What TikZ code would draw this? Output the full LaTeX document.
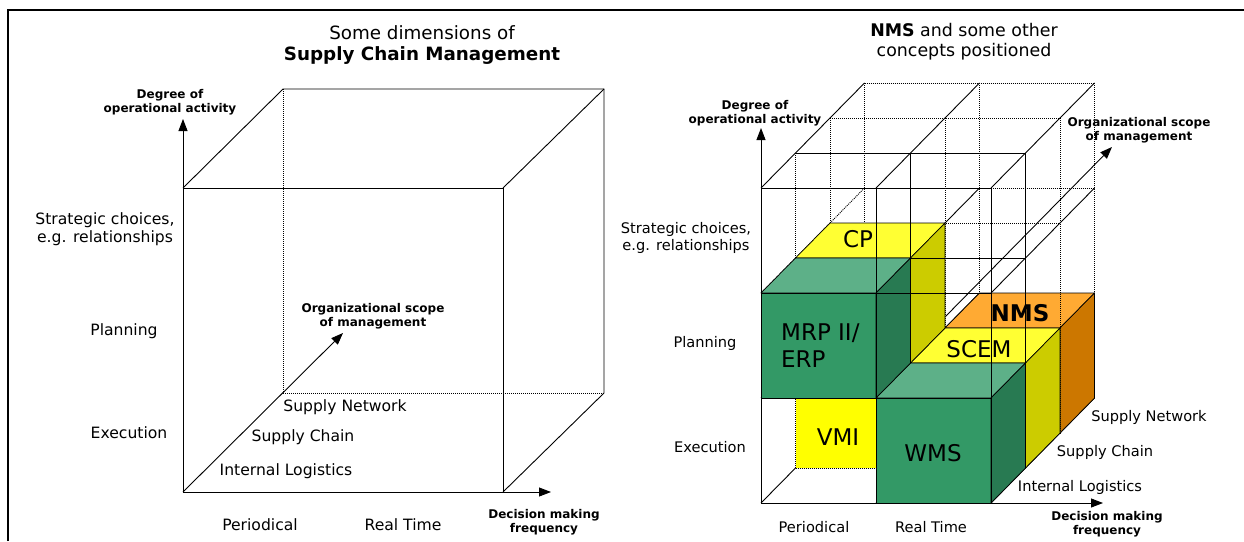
\documentclass[tikz,border=0pt]{standalone}
\usepackage{fontspec}
\setmainfont{DejaVu Sans}
\usetikzlibrary{arrows.meta}

\definecolor{greenfront}{RGB}{51,153,102}
\definecolor{greentop}{RGB}{93,176,136}
\definecolor{greenside}{RGB}{40,122,82}
\definecolor{yellowfront}{RGB}{255,255,0}
\definecolor{yellowtop}{RGB}{255,255,51}
\definecolor{yellowside}{RGB}{204,204,0}
\definecolor{orangetop}{RGB}{255,170,51}
\definecolor{orangeside}{RGB}{204,119,0}

\tikzstyle{frameline}=[line width=1.3pt]
\tikzstyle{solidline}=[line width=0.9pt]
\tikzstyle{dotline}=[line width=0.9pt, dash pattern=on 1pt off 1pt]
\tikzstyle{axisarrow}=[line width=0.9pt, -{Triangle[length=12pt,width=9pt]}]
\tikzstyle{titletext}=[font=\fontsize{18.3}{21}\selectfont, align=center, inner sep=0pt]
\tikzstyle{axistext}=[font=\fontsize{12}{14.5}\selectfont\bfseries, align=center, inner sep=0pt]
\tikzstyle{sidetext}=[font=\fontsize{15.6}{17.5}\selectfont, align=center, inner sep=0pt]
\tikzstyle{sidetextr}=[font=\fontsize{14.6}{17}\selectfont, align=center, inner sep=0pt]
\tikzstyle{blocktext}=[font=\fontsize{23}{27}\selectfont, inner sep=0pt]
\tikzstyle{blockedge}=[draw=black, line width=0.7pt, line join=round]

% one cell of the right cube: c, r, d, front, top, side colour, edge style
\newcommand{\putblock}[7]{%
  \filldraw[fill=#4,#7] (#1,#2,#3) -- ({#1+1},#2,#3) -- ({#1+1},{#2+1},#3) -- (#1,{#2+1},#3) -- cycle;
  \filldraw[fill=#5,#7] (#1,#2,#3) -- ({#1+1},#2,#3) -- ({#1+1},#2,{#3+1}) -- (#1,#2,{#3+1}) -- cycle;
  \filldraw[fill=#6,#7] ({#1+1},#2,#3) -- ({#1+1},#2,{#3+1}) -- ({#1+1},{#2+1},{#3+1}) -- ({#1+1},{#2+1},#3) -- cycle;
}
\newcommand{\diaglist}{0/0/solidline,1/0/solidline,2/0/solidline,0/1/dotline,1/1/solidline,2/1/solidline,0/2/dotline,1/2/solidline,2/2/solidline,0/3/solidline,1/3/solidline,2/3/solidline}

\begin{document}
\begin{tikzpicture}[x=1pt,y=-1pt]
    \useasboundingbox (0,0) rectangle (1244,541);
    \draw[frameline] (8,541) -- (8,10) -- (1244,10);

    % left cube
    \coordinate (LFtl) at (183,188);
    \coordinate (LFtr) at (503,188);
    \coordinate (LFbr) at (503,492);
    \coordinate (LFbl) at (183,492);
    \coordinate (LBtl) at (283,89);
    \coordinate (LBtr) at (604,89);
    \coordinate (LBbr) at (604,393);
    \coordinate (LBbl) at (283,393);
    \coordinate (LUp) at (183,119);
    \coordinate (LRight) at (551,492);
    \coordinate (LDepth) at (343,333);
    \draw[dotline] (LBtl) -- (LBbl) -- (LBbr);
    \draw[solidline] (LFtl) -- (LFtr) -- (LFbr) -- (LFbl) -- cycle;
    \draw[solidline] (LFtl) -- (LBtl) -- (LBtr) -- (LBbr) -- (LFbr);
    \draw[solidline] (LFtr) -- (LBtr);
    \draw[axisarrow] (LFtl) -- (LUp);
    \draw[axisarrow] (LFbr) -- (LRight);
    \draw[axisarrow] (LFbl) -- (LDepth);

    \node[titletext] (LTitle) at (422,45) {Some dimensions of\\\textbf{Supply Chain Management}};
    \node[axistext] (LDegree) at (170,102) {Degree of\\operational activity};
    \node[axistext] (LScope) at (373,316) {Organizational scope\\of management};
    \node[axistext] (LFreq) at (544,522) {Decision making\\frequency};
    \node[sidetext] (LStrat) at (105,229) {Strategic choices,\\e.g. relationships};
    \node[sidetext] (LPlan) at (124,331) {Planning};
    \node[sidetext] (LExec) at (129,433) {Execution};
    \node[sidetext] (LPer) at (260,525) {Periodical};
    \node[sidetext] (LReal) at (403,525) {Real Time};
    \node[sidetext] (LNet) at (345,407) {Supply Network};
    \node[sidetext] (LChain) at (303,437) {Supply Chain};
    \node[sidetext] (LInt) at (286,471) {Internal Logistics};

    % right cube, back to front
    \coordinate (RScopeStart) at (945,317);
    \coordinate (RScopeTip) at (1112,147);
    \coordinate (RUp) at (761,128);
    \coordinate (RRight) at (1103,503);
    \begin{scope}[shift={(761,188)}, x={(115pt,0pt)}, y={(0pt,-105pt)}, z={(34.5pt,35pt)}]
        \coordinate (RFtl) at (0,0,0);
        \coordinate (RFbr) at (2,3,0);
        \foreach \r in {0,...,3} \draw[dotline] (0,\r,3) -- (2,\r,3);
        \foreach \c in {0,1,2} \draw[dotline] (\c,0,3) -- (\c,3,3);
        \foreach \c/\r/\s in \diaglist \draw[\s] (\c,\r,2) -- (\c,\r,3);
        \putblock{1}{2}{2}{orangetop}{orangetop}{orangeside}{blockedge}
        \foreach \r in {0,...,3} \draw[dotline] (0,\r,2) -- (2,\r,2);
        \foreach \c in {0,1,2} \draw[dotline] (\c,0,2) -- (\c,3,2);
        \foreach \c/\r/\s in \diaglist \draw[\s] (\c,\r,1) -- (\c,\r,2);
        \draw[axisarrow] (RScopeStart) -- (RScopeTip);
        \putblock{0}{2}{1}{yellowfront}{yellowtop}{yellowside}{draw=none}
        \putblock{1}{2}{1}{yellowfront}{yellowtop}{yellowside}{blockedge}
        \putblock{0}{1}{1}{yellowfront}{yellowtop}{yellowside}{blockedge}
        \foreach \r/\s in {0/solidline,1/solidline,2/solidline,3/dotline} \draw[\s] (0,\r,1) -- (2,\r,1);
        \foreach \c/\s in {0/dotline,1/solidline,2/solidline} \draw[\s] (\c,0,1) -- (\c,3,1);
        \foreach \c/\r/\s in \diaglist \draw[\s] (\c,\r,0) -- (\c,\r,1);
        \putblock{1}{2}{0}{greenfront}{greentop}{greenside}{blockedge}
        \putblock{0}{1}{0}{greenfront}{greentop}{greenside}{blockedge}
        \foreach \r in {0,...,3} \draw[solidline] (0,\r,0) -- (2,\r,0);
        \foreach \c in {0,1,2} \draw[solidline] (\c,0,0) -- (\c,3,0);
    \end{scope}
    \draw[axisarrow] (RFtl) -- (RUp);
    \draw[axisarrow] (RFbr) -- (RRight);

    \node[titletext, font=\fontsize{17.4}{20}\selectfont] (RTitle) at (964,42) {\textbf{NMS} and some other\\concepts positioned};
    \node[axistext] (RDegree) at (755,113) {Degree of\\operational activity};
    \node[axistext] (RScope) at (1139,130) {Organizational scope\\of management};
    \node[axistext] (RFreq) at (1107,524) {Decision making\\frequency};
    \node[sidetextr] (RStrat) at (686,238) {Strategic choices,\\e.g. relationships};
    \node[sidetextr] (RPlan) at (705,343) {Planning};
    \node[sidetextr] (RExec) at (710,447) {Execution};
    \node[sidetextr] (RPer) at (814,527) {Periodical};
    \node[sidetextr] (RReal) at (931,527) {Real Time};
    \node[sidetextr] (RNet) at (1149,417) {Supply Network};
    \node[sidetextr] (RChain) at (1105,452) {Supply Chain};
    \node[sidetextr] (RInt) at (1080,487) {Internal Logistics};

    \node[blocktext] (CPtext) at (858,239) {CP};
    \node[blocktext, align=left, anchor=west, font=\fontsize{23}{27}\selectfont] (MRPtext) at (781,346) {MRP II/\\ERP};
    \node[blocktext, font=\fontsize{23}{27}\selectfont\bfseries] (NMStext) at (1020,313) {NMS};
    \node[blocktext] (SCEMtext) at (979,349) {SCEM};
    \node[blocktext] (VMItext) at (838,437) {VMI};
    \node[blocktext] (WMStext) at (933,453) {WMS};
\end{tikzpicture}
\end{document}
